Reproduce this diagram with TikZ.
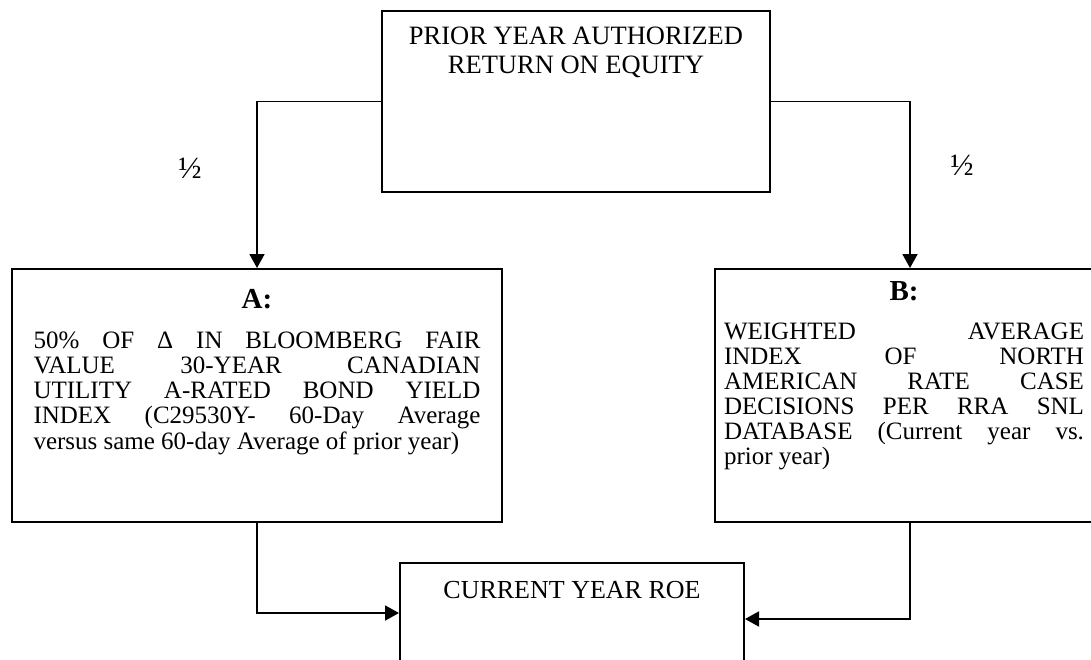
\documentclass[tikz,border=0pt]{standalone}
\usepackage{fontspec}
\setmainfont{Liberation Serif}
\usetikzlibrary{arrows.meta}

\newcommand{\bodyfont}{\fontsize{25}{25.3}\selectfont\mdseries}
\newcommand{\headfont}{\fontsize{29}{30}\selectfont\bfseries}

\begin{document}
\begin{tikzpicture}[x=1pt,y=-1pt,
    box/.style={draw,line width=2pt,inner sep=0pt,anchor=north west},
    conn/.style={line width=1.8pt,-{Triangle[length=14pt,width=15pt]}},
    half/.style={font=\fontsize{31}{31}\selectfont}]

  \useasboundingbox (0,0) rectangle (1091,659);
  \clip (0,0) rectangle (1091,659);

  % boxes
  \node[box] (prior) at (381,10) {\parbox[c][181pt][t]{388pt}{\centering
      \fontsize{26.5}{29.5}\selectfont
      \rule{0pt}{33pt}PRIOR YEAR AUTHORIZED\\
      RETURN ON EQUITY}};

  \node[box] (A) at (11,268) {\parbox[c][253pt][t]{490pt}{\centering
      \headfont\rule{0pt}{39pt}A:\par
      \vspace{14.7pt}\bodyfont
      \makebox[447pt][s]{50\% OF Δ IN BLOOMBERG FAIR}\\
      \makebox[447pt][s]{VALUE 30-YEAR CANADIAN}\\
      \makebox[447pt][s]{UTILITY A-RATED BOND YIELD}\\
      \makebox[447pt][s]{INDEX (C29530Y- 60-Day Average}\\
      \makebox[447pt][l]{versus same 60-day Average of prior year)}\par}};

  \node[box] (B) at (714,268) {\parbox[c][253pt][t]{378pt}{\centering
      \headfont\rule{0pt}{31pt}B:\par
      \vspace{14pt}\fontsize{25}{25}\selectfont\mdseries
      \makebox[360pt][s]{WEIGHTED AVERAGE}\\
      \makebox[360pt][s]{INDEX OF NORTH}\\
      \makebox[360pt][s]{AMERICAN RATE CASE}\\
      \makebox[360pt][s]{DECISIONS PER RRA SNL}\\
      \makebox[360pt][s]{DATABASE (Current year vs.}\\
      \makebox[360pt][l]{prior year)}\par}};

  \node[box] (roe) at (399,562) {\parbox[c][120pt][t]{344pt}{\centering
      \fontsize{26}{28}\selectfont
      \rule{0pt}{35pt}CURRENT YEAR ROE}};

  % weights
  \node[half] (halfA) at (190,168) {½};
  \node[half] (halfB) at (962,165) {½};

  % connectors
  \draw[conn] (prior.west) -| (A.north);
  \draw[conn] (prior.east) -| ([xshift=6pt]B.north);
  \draw[conn] (A.south) |- ([yshift=-51pt]roe.north west);
  \draw[conn] ([xshift=6pt]B.south) |- ([yshift=-57pt]roe.north east);

\end{tikzpicture}
\end{document}
